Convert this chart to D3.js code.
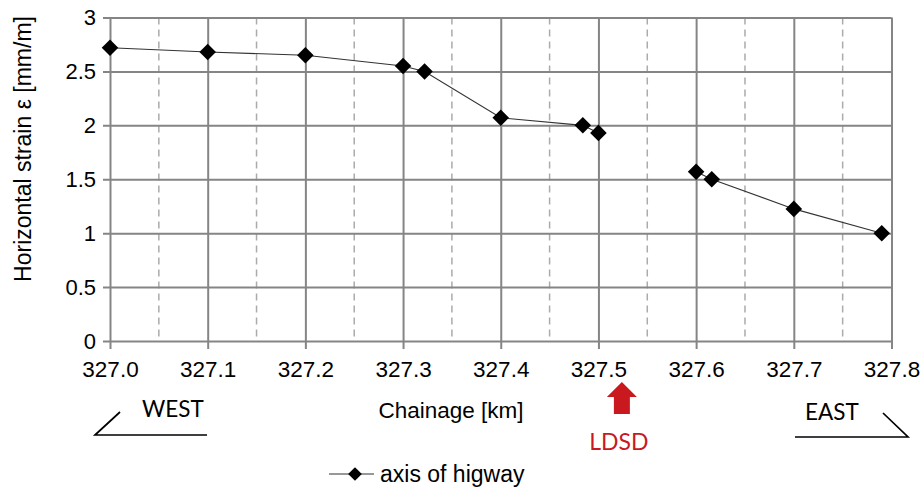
<!DOCTYPE html>
<html><head><meta charset="utf-8">
<script src="https://cdn.jsdelivr.net/npm/d3@7"></script>
<style>body{margin:0;background:#fff;} svg{display:block;}</style>
</head><body>
<svg id="c" width="922" height="492"></svg>
<script>
// Data: chainage [km] and horizontal strain [mm/m]; two separate segments (gap in line)
const segmentA_km = [327.0, 327.1, 327.2, 327.3, 327.322, 327.4, 327.484, 327.5];
const segmentA_strain = [2.72, 2.68, 2.65, 2.55, 2.50, 2.07, 2.00, 1.93];
const segmentB_km = [327.6, 327.616, 327.7, 327.79];
const segmentB_strain = [1.57, 1.50, 1.225, 1.00];
const xTicks = [327.0, 327.1, 327.2, 327.3, 327.4, 327.5, 327.6, 327.7, 327.8];
const xMinorTicks = [327.05, 327.15, 327.25, 327.35, 327.45, 327.55, 327.65, 327.75];
const yTicks = [0, 0.5, 1, 1.5, 2, 2.5, 3];
const ldsdKm = 327.524;

const svg = d3.select("#c");
const L = 110, R = 891.5, T = 17.5, B = 341;
const x = d3.scaleLinear().domain([327.0, 327.8]).range([L, R]);
const y = d3.scaleLinear().domain([0, 3]).range([B, T]);
const font = "'Liberation Sans', Arial, sans-serif";
const calib = "Lato, 'Open Sans', sans-serif";
const gridCol = "#858585";

// minor dashed verticals
svg.append("g").selectAll("line").data(xMinorTicks).join("line")
  .attr("x1", d => x(d)).attr("x2", d => x(d)).attr("y1", T).attr("y2", B)
  .attr("stroke", "#ababab").attr("stroke-width", 1.5).attr("stroke-dasharray", "7,5");

// horizontal grid + y ticks
const yAxis = d3.axisLeft(y).tickValues(yTicks).tickSize(-(R - L)).tickSizeOuter(0)
  .tickFormat(d => d3.format("")(d)).tickPadding(14);
const gy = svg.append("g").attr("transform", `translate(${L},0)`).call(yAxis);
gy.select(".domain").remove();
gy.selectAll(".tick line").attr("stroke", gridCol).attr("stroke-width", 2)
  .attr("x1", -7);
gy.selectAll(".tick text").attr("font-family", font).attr("font-size", 22).attr("fill", "#000");

// vertical major grid + x ticks
const xAxis = d3.axisBottom(x).tickValues(xTicks).tickSize(-(B - T)).tickSizeOuter(0)
  .tickFormat(d3.format(".1f")).tickPadding(14);
const gx = svg.append("g").attr("transform", `translate(0,${B})`).call(xAxis);
gx.select(".domain").remove();
gx.selectAll(".tick line").attr("stroke", gridCol).attr("stroke-width", 2).attr("y1", 8);
gx.selectAll(".tick text").attr("font-family", font).attr("font-size", 22.5).attr("fill", "#000")
  .attr("dy", "0.71em").attr("y", 20);

// data lines
const line = d3.line().x(d => x(d[0])).y(d => y(d[1]));
const segA = segmentA_km.map((k, i) => [k, segmentA_strain[i]]);
const segB = segmentB_km.map((k, i) => [k, segmentB_strain[i]]);
[segA, segB].forEach(seg => {
  svg.append("path").datum(seg).attr("d", line).attr("fill", "none")
    .attr("stroke", "#333").attr("stroke-width", 1.1);
});
const diamond = d3.symbol().type(d3.symbolDiamond2).size(175);
svg.append("g").selectAll("path").data(segA.concat(segB)).join("path")
  .attr("d", diamond)
  .attr("transform", d => `translate(${x(d[0])},${y(d[1])})`)
  .attr("fill", "#000");

// y axis title
svg.append("text").attr("transform", `translate(31,149) rotate(-90)`)
  .attr("text-anchor", "middle").attr("font-family", font).attr("font-size", 23)
  .text("Horizontal strain ε [mm/m]");

// x axis title
svg.append("text").attr("x", 451).attr("y", 418).attr("text-anchor", "middle")
  .attr("font-family", font).attr("font-size", 22.5).text("Chainage [km]");

// WEST / EAST annotations
svg.append("text").attr("x", 142).attr("y", 417).attr("font-family", calib).attr("font-size", 22.5).text("WEST");
svg.append("path").attr("d", "M120,412 L95,435 L207,435").attr("fill", "none").attr("stroke", "#000").attr("stroke-width", 1.7);
svg.append("text").attr("x", 805).attr("y", 420).attr("font-family", calib).attr("font-size", 22.5).text("EAST");
svg.append("path").attr("d", "M795,437 L908,437 L883,413").attr("fill", "none").attr("stroke", "#000").attr("stroke-width", 1.7);

// LDSD arrow
const ax = x(ldsdKm);
const red = "#c9191e";
svg.append("path").attr("d", `M${ax},382 L${ax + 15},397 L${ax + 8},397 L${ax + 8},414 L${ax - 8},414 L${ax - 8},397 L${ax - 15},397 Z`).attr("fill", red);
svg.append("text").attr("x", ax - 3).attr("y", 450).attr("text-anchor", "middle")
  .attr("font-family", calib).attr("font-size", 23).attr("fill", red).text("LDSD");

// legend
svg.append("line").attr("x1", 329).attr("x2", 374).attr("y1", 474).attr("y2", 474).attr("stroke", "#333").attr("stroke-width", 1.1);
svg.append("path").attr("d", d3.symbol().type(d3.symbolDiamond2).size(120)).attr("transform", "translate(355,474)").attr("fill", "#000");
svg.append("text").attr("x", 380).attr("y", 482).attr("font-family", font).attr("font-size", 23).text("axis of higway");
</script>
</body></html>
